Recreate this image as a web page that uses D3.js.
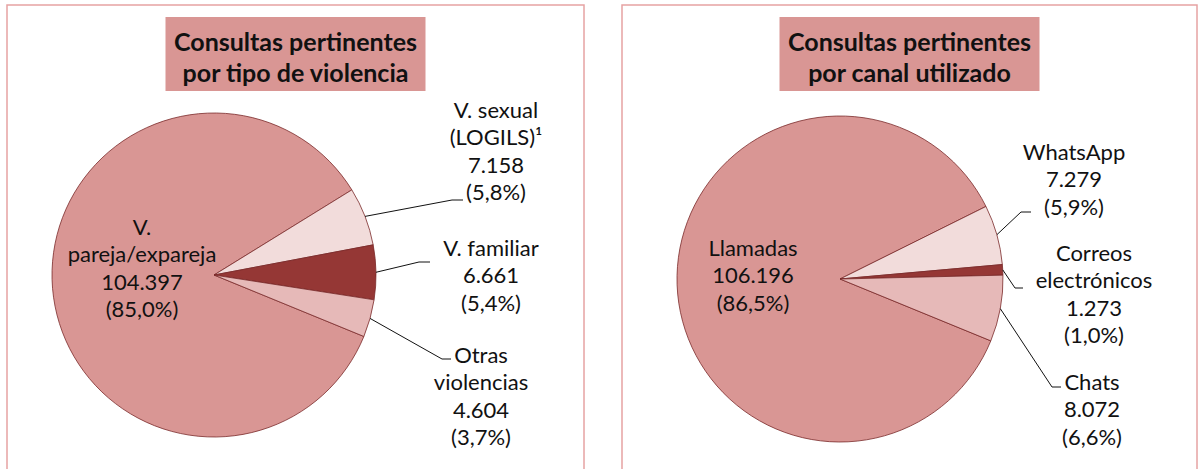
<!DOCTYPE html>
<meta charset="utf-8">
<script src="https://d3js.org/d3.v7.min.js"></script>
<style>
  body { margin: 0; background: #fff; }
  text { font-family: Lato, "Open Sans", sans-serif; fill: #111; }
</style>
<svg id="chart" width="1199" height="469"></svg>
<script>

  // data
  var tipoNames = [["V.", "pareja/expareja"], ["V. sexual", "(LOGILS)¹"], ["V. familiar"], ["Otras", "violencias"]];
  var tipoValues = [104397, 7158, 6661, 4604];
  var canalNames = [["Llamadas"], ["WhatsApp"], ["Correos", "electrónicos"], ["Chats"]];
  var canalValues = [106196, 7279, 1273, 8072];
  var titles = [["Consultas pertinentes", "por tipo de violencia"], ["Consultas pertinentes", "por canal utilizado"]];
  var colors = ["#d99694", "#f2dcdb", "#953735", "#e6b9b8"];

  // spanish number format
  var es = d3.formatLocale({ decimal: ",", thousands: ".", grouping: [3], currency: ["", " €"] });
  var fmtNum = es.format(",d"), fmtPct = es.format(".1%");

  var svg = d3.select("svg");

  // layout of each panel; label offsets are relative to the pie centre
  // [text x, first line y, elbow x, elbow y, end x]
  var panels = [
    { names: tipoNames, values: tipoValues, title: titles[0],
      x0: 7, x1: 584, cx: 214, cy: 275, r: 162,
      labels: [[-72, -48], [282, -165, 238, -75, 249], [277, -27, 205, -13, 216], [267, 80, 228, 84, 237]] },
    { names: canalNames, values: canalValues, title: titles[1],
      x0: 622, x1: 1197, cx: 840, cy: 279, r: 163,
      labels: [[-87, -31], [234, -127, 181, -67, 191], [254, -26, 175, 9, 183], [252, 103, 212, 108, 221]] }
  ];

  var lineH = 27.5;

  panels.forEach(function(p) {
    var g = svg.append("g");

    // frame
    g.append("rect")
      .attr("x", p.x0).attr("y", 5)
      .attr("width", p.x1 - p.x0).attr("height", 500)
      .attr("fill", "none")
      .attr("stroke", "#e6a3a3")
      .attr("stroke-width", 1.5);

    // title box
    var mid = (p.x0 + p.x1) / 2;
    g.append("rect")
      .attr("x", mid - 130).attr("y", 17)
      .attr("width", 260).attr("height", 74)
      .attr("fill", "#d99694");
    g.selectAll(".title")
      .data(p.title)
      .enter().append("text")
        .attr("x", mid)
        .attr("y", function(d, i) { return 42 + i * 31; })
        .attr("dy", "0.35em")
        .attr("text-anchor", "middle")
        .style("font-weight", "bold")
        .style("font-size", "25px")
        .text(function(d) { return d; });

    // pie
    var total = d3.sum(p.values);
    var pie = d3.pie().sort(null)
      .startAngle(112.3 * Math.PI / 180)
      .endAngle((112.3 + 360) * Math.PI / 180);
    var arc = d3.arc().innerRadius(0).outerRadius(p.r);
    var arcs = pie(p.values);

    var pg = g.append("g").attr("transform", "translate(" + p.cx + "," + p.cy + ")");
    pg.selectAll("path")
      .data(arcs)
      .enter().append("path")
        .attr("d", arc)
        .attr("fill", function(d, i) { return colors[i]; })
        .attr("stroke", "#7a2a2a")
        .attr("stroke-width", 0.8);

    // leader lines
    var edge = d3.arc().innerRadius(p.r).outerRadius(p.r);
    arcs.forEach(function(a, i) {
      var L = p.labels[i];
      if (L.length > 2) {
        var s = edge.centroid(a);
        pg.append("polyline")
          .attr("points", [s, [L[2], L[3]], [L[4], L[3]]].map(function(q) { return q.join(","); }).join(" "))
          .attr("fill", "none")
          .attr("stroke", "#111")
          .attr("stroke-width", 1);
      }
      var lines = p.names[i].concat([fmtNum(p.values[i]), "(" + fmtPct(p.values[i] / total) + ")"]);
      pg.append("g").selectAll("text")
        .data(lines)
        .enter().append("text")
          .attr("x", L[0])
          .attr("y", function(d, j) { return L[1] + j * lineH; })
          .attr("dy", "0.35em")
          .attr("text-anchor", "middle")
          .style("font-size", "22px")
          .text(function(d) { return d; });
    });
  });

</script>
